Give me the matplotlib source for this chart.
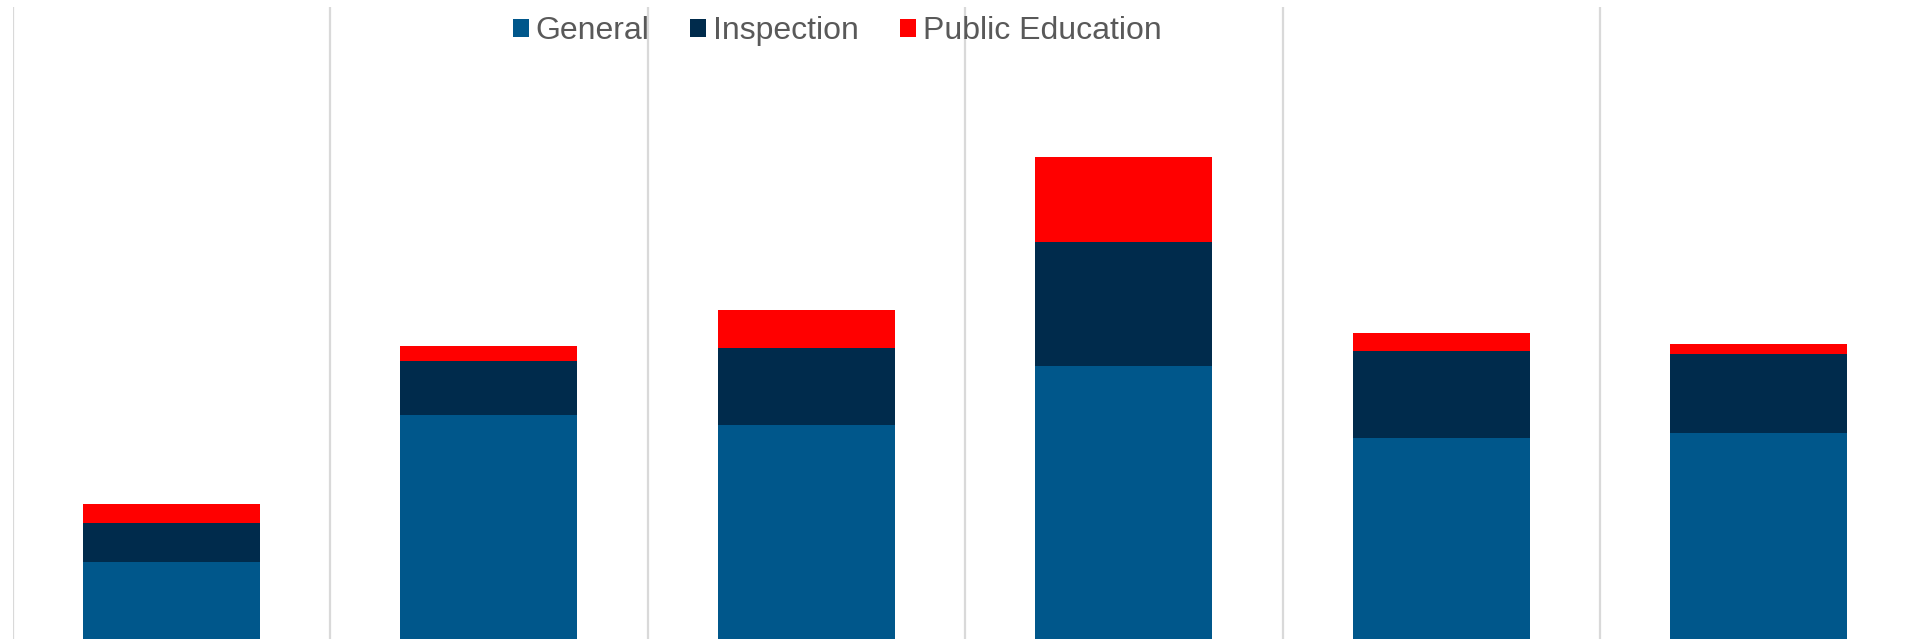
import matplotlib
matplotlib.use("Agg")
import matplotlib.pyplot as plt
import numpy as np

plt.rcParams['font.family'] = ['Liberation Sans', 'DejaVu Sans']

categories = ["A", "B", "C", "D", "E", "F"]
general = [85, 248, 237, 302, 223, 228]
inspection = [43, 60, 85, 137, 96, 88]
public_education = [21, 16, 42, 95, 20, 11]

series_names = ["General", "Inspection", "Public Education"]
colors = ["#00578B", "#002B4C", "#FF0000"]

W, H = 1914, 639
fig = plt.figure(figsize=(W / 100, H / 100), dpi=100)
left, right = 12.5, 1917.5
top = 6.7
ax = fig.add_axes([left / W, 0, (right - left) / W, (H - top) / H])

x = np.arange(len(categories))
bar_w = 0.557
g = np.array(general)
i = np.array(inspection)
p = np.array(public_education)
handles = []
handles.append(ax.bar(x, g, bar_w, color=colors[0], linewidth=0, label=series_names[0]))
handles.append(ax.bar(x, i, bar_w, bottom=g, color=colors[1], linewidth=0, label=series_names[1]))
handles.append(ax.bar(x, p, bar_w, bottom=g + i, color=colors[2], linewidth=0, label=series_names[2]))

# category separators
for b in np.arange(len(categories) + 1) - 0.5:
    ax.axvline(b, color="#D9D9D9", linewidth=1.6, zorder=0)

ax.set_xlim(-0.5, len(categories) - 0.5)
ax.set_ylim(0, 700)
ax.set_xticks([])
ax.set_yticks([])
for s in ax.spines.values():
    s.set_visible(False)

leg = fig.legend(handles=handles, labels=series_names, loc="center",
                 bbox_to_anchor=(837 / W, 1 - 31 / H), ncol=3, frameon=False,
                 fontsize=23, handlelength=0.5, handleheight=0.5,
                 handletextpad=0.2, columnspacing=1.3, borderaxespad=0,
                 borderpad=0)
for t in leg.get_texts():
    t.set_color("#595959")

fig.savefig("out.png", dpi=100)
